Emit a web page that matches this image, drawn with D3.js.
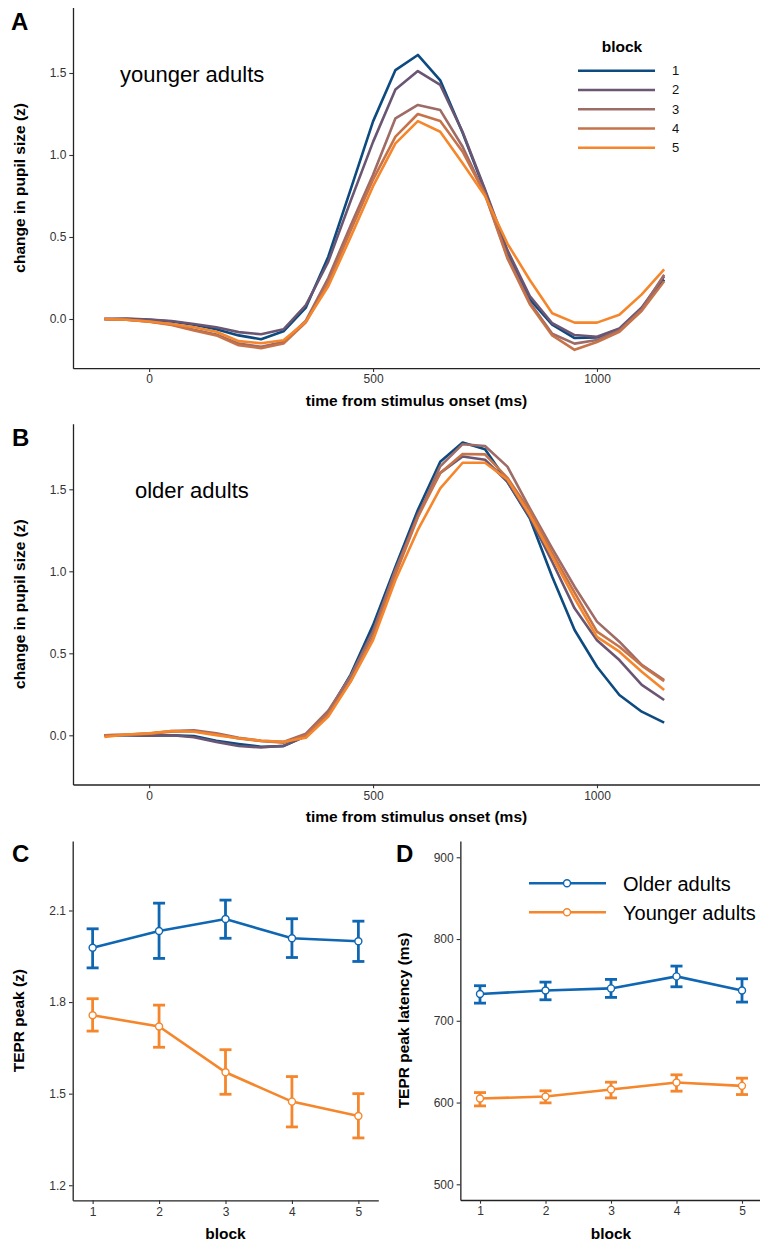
<!DOCTYPE html>
<html>
<head>
<meta charset="utf-8">
<script src="https://cdn.jsdelivr.net/npm/d3@7"></script>
<style>
  html, body { margin: 0; padding: 0; background: #fff; }
  svg { display: block; font-family: "Liberation Sans", Arial, sans-serif; }
</style>
</head>
<body>
<svg id="chart" width="760" height="1243"></svg>
<script>
// ---------------- DATA ----------------
const times = [-100,-50,0,50,100,150,200,250,300,350,400,450,500,550,600,650,700,750,800,850,900,950,1000,1050,1100,1150];
const blocks = [1,2,3,4,5];

// Panel A: younger adults, pupil change (z) per block
const younger_block1 = [0,0,-0.005,-0.015,-0.035,-0.062,-0.1,-0.123,-0.075,0.07,0.38,0.79,1.205,1.518,1.61,1.455,1.135,0.78,0.40,0.12,-0.035,-0.116,-0.113,-0.068,0.06,0.24];
const younger_block2 = [0,0.002,-0.003,-0.012,-0.03,-0.05,-0.08,-0.093,-0.063,0.085,0.35,0.72,1.08,1.40,1.512,1.427,1.14,0.79,0.42,0.14,-0.026,-0.098,-0.108,-0.058,0.07,0.26];
const younger_block3 = [0,-0.005,-0.015,-0.032,-0.065,-0.095,-0.15,-0.17,-0.14,-0.01,0.25,0.57,0.88,1.224,1.305,1.274,1.05,0.76,0.38,0.10,-0.09,-0.15,-0.128,-0.07,0.06,0.27];
const younger_block4 = [0,-0.005,-0.017,-0.037,-0.07,-0.1,-0.16,-0.178,-0.15,-0.02,0.22,0.54,0.85,1.112,1.25,1.207,1.02,0.76,0.37,0.09,-0.1,-0.188,-0.14,-0.078,0.05,0.23];
const younger_block5 = [0,-0.005,-0.015,-0.03,-0.05,-0.078,-0.135,-0.148,-0.13,-0.016,0.2,0.5,0.81,1.071,1.207,1.142,0.95,0.75,0.46,0.238,0.035,-0.022,-0.022,0.026,0.15,0.303];

// Panel B: older adults, pupil change (z) per block
const older_block1 = [0,0,-0.002,0,-0.005,-0.033,-0.053,-0.07,-0.066,-0.005,0.14,0.37,0.672,1.028,1.374,1.668,1.785,1.744,1.546,1.323,0.967,0.642,0.418,0.246,0.144,0.077];
const older_block2 = [0,0,-0.002,0,-0.012,-0.04,-0.065,-0.074,-0.064,-0.005,0.14,0.36,0.64,1.0,1.35,1.60,1.70,1.68,1.546,1.33,1.058,0.774,0.58,0.459,0.307,0.215];
const older_block3 = [0,0.005,0.01,0.026,0.03,0.012,-0.015,-0.034,-0.04,0.01,0.15,0.36,0.63,1.01,1.335,1.64,1.775,1.764,1.638,1.384,1.14,0.906,0.693,0.571,0.429,0.337];
const older_block4 = [0,0.003,0.01,0.022,0.025,0.006,-0.02,-0.035,-0.045,0.0,0.13,0.33,0.60,0.98,1.33,1.60,1.715,1.713,1.57,1.37,1.11,0.87,0.632,0.54,0.425,0.33];
const older_block5 = [-0.01,0.005,0.012,0.026,0.022,0.001,-0.018,-0.033,-0.039,-0.015,0.114,0.327,0.581,0.947,1.252,1.506,1.662,1.662,1.56,1.343,1.089,0.835,0.60,0.51,0.388,0.276];

// Panel C: TEPR peak (z), mean and error bar limits
const peak_older_mean  = [1.978,2.033,2.072,2.009,1.999];
const peak_older_low   = [1.912,1.943,2.009,1.946,1.933];
const peak_older_high  = [2.040,2.124,2.134,2.073,2.065];
const peak_younger_mean = [1.757,1.720,1.570,1.474,1.427];
const peak_younger_low  = [1.705,1.652,1.498,1.391,1.355];
const peak_younger_high = [1.811,1.790,1.644,1.556,1.500];

// Panel D: TEPR peak latency (ms)
const lat_older_mean  = [732.7,737.1,739.6,754.3,737.1];
const lat_older_low   = [721.6,725.7,728.6,741.6,722.9];
const lat_older_high  = [742.9,747.3,750.6,766.9,751.4];
const lat_younger_mean = [604.9,607.3,615.9,624.5,620.4];
const lat_younger_low  = [595.9,599.6,605.7,613.9,609.8];
const lat_younger_high = [612.2,614.3,624.9,633.9,629.8];

// tick labels
const curveYTicks = [0.0, 0.5, 1.0, 1.5];
const curveXTicks = [0, 500, 1000];
const peakYTicks = [1.2, 1.5, 1.8, 2.1];
const latYTicks = [500, 600, 700, 800, 900];
const groupNames = ["Older adults", "Younger adults"];

// ---------------- STYLE ----------------
const blockColors = ["#0c4a80", "#6a5673", "#9e6b67", "#c6734a", "#f5862b"];
const olderColor = "#0f66b2";
const youngerColor = "#f5862b";
const axisColor = "#222";
const tickTextColor = "#333";

const svg = d3.select("#chart");

function styleAxis(g) {
  g.select(".domain").attr("stroke", axisColor).attr("stroke-width", 1.3);
  g.selectAll(".tick line").attr("stroke", "#333").attr("stroke-width", 1.1);
  g.selectAll(".tick text").attr("fill", tickTextColor).style("font-size", "12px")
    .style("font-family", '"Liberation Sans", Arial, sans-serif');
}

function boldText(x, y, txt, size, anchor, rotate) {
  const t = svg.append("text")
    .attr("font-weight", "bold")
    .attr("font-size", size)
    .attr("text-anchor", anchor || "middle")
    .attr("fill", "#000")
    .text(txt);
  if (rotate) t.attr("transform", `translate(${x},${y}) rotate(-90)`);
  else t.attr("x", x).attr("y", y);
  return t;
}

// ---------------- PANELS A & B ----------------
function curvePanel(cfg) {
  const x = d3.scaleLinear().domain([-170, 1364]).range([73, 760]);
  const y = d3.scaleLinear().domain([-0.3, 1.9]).range([cfg.zeroY + 0.3 * 164, cfg.zeroY - 1.9 * 164]);
  const g = svg.append("g");

  const line = d3.line().x((d, i) => x(times[i])).y(d => y(d));
  cfg.series.forEach((s, i) => {
    g.append("path").datum(s)
      .attr("fill", "none")
      .attr("stroke", blockColors[i])
      .attr("stroke-width", 2.6)
      .attr("stroke-linejoin", "round")
      .attr("d", line);
  });

  const xa = g.append("g").attr("transform", `translate(0,${y.range()[0]})`)
    .call(d3.axisBottom(x).tickValues(curveXTicks).tickSize(3.7).tickSizeOuter(0).tickPadding(3).tickFormat(d3.format("d")));
  styleAxis(xa);
  const ya = g.append("g").attr("transform", `translate(73,0)`)
    .call(d3.axisLeft(y).tickValues(curveYTicks).tickSize(3.7).tickSizeOuter(0).tickPadding(3).tickFormat(d3.format(".1f")));
  styleAxis(ya);

  boldText(416.5, y.range()[0] + 37.5, "time from stimulus onset (ms)", "15.5px");
  boldText(24.5, (y.range()[0] + y.range()[1]) / 2, "change in pupil size (z)", "15.5px", "middle", true);
  boldText(cfg.letterX, cfg.letterY, cfg.letter, "24px", "start");
  svg.append("text").attr("x", cfg.labelX).attr("y", cfg.labelY)
    .attr("font-size", "22px").attr("fill", "#000").text(cfg.label);
}

curvePanel({ zeroY: 319, series: [younger_block1, younger_block2, younger_block3, younger_block4, younger_block5],
  letter: "A", letterX: 11, letterY: 30, label: "younger adults", labelX: 120, labelY: 82 });
curvePanel({ zeroY: 735.3, series: [older_block1, older_block2, older_block3, older_block4, older_block5],
  letter: "B", letterX: 12, letterY: 446, label: "older adults", labelX: 135, labelY: 498 });

// legend for A
boldText(622, 52, "block", "15.5px");
blocks.forEach((b, i) => {
  const ly = 70.7 + i * 19.25;
  svg.append("line").attr("x1", 578).attr("x2", 655).attr("y1", ly).attr("y2", ly)
    .attr("stroke", blockColors[i]).attr("stroke-width", 2.6);
  svg.append("text").attr("x", 672).attr("y", ly + 4.5).attr("font-size", "13px")
    .attr("fill", "#111").text(b);
});

// ---------------- PANELS C & D ----------------
function blockPanel(cfg) {
  const x = d3.scaleLinear().domain([0.7, 5.3]).range(cfg.xRange);
  const y = d3.scaleLinear().domain(cfg.yDomain).range([cfg.yBottom, cfg.yTop]);
  const g = svg.append("g");

  const groups = [
    { mean: cfg.olderMean, low: cfg.olderLow, high: cfg.olderHigh, color: olderColor },
    { mean: cfg.youngerMean, low: cfg.youngerLow, high: cfg.youngerHigh, color: youngerColor }
  ];
  const line = d3.line().x((d, i) => x(blocks[i])).y(d => y(d));
  groups.forEach(gr => {
    g.append("path").datum(gr.mean).attr("fill", "none").attr("stroke", gr.color)
      .attr("stroke-width", 2.6).attr("d", line);
    blocks.forEach((b, i) => {
      const cx = x(b);
      g.append("line").attr("x1", cx).attr("x2", cx).attr("y1", y(gr.low[i])).attr("y2", y(gr.high[i]))
        .attr("stroke", gr.color).attr("stroke-width", 2.8);
      [gr.low[i], gr.high[i]].forEach(v => {
        g.append("line").attr("x1", cx - 6).attr("x2", cx + 6).attr("y1", y(v)).attr("y2", y(v))
          .attr("stroke", gr.color).attr("stroke-width", 2.8);
      });
    });
    g.selectAll(null).data(gr.mean).enter().append("circle")
      .attr("cx", (d, i) => x(blocks[i])).attr("cy", d => y(d)).attr("r", 3.5)
      .attr("fill", "#fff").attr("stroke", gr.color).attr("stroke-width", 1.4);
  });

  const xa = g.append("g").attr("transform", `translate(0,${cfg.yBottom})`)
    .call(d3.axisBottom(x).tickValues(blocks).tickSize(3.7).tickSizeOuter(0).tickPadding(3).tickFormat(d3.format("d")));
  styleAxis(xa);
  const ya = g.append("g").attr("transform", `translate(${cfg.xRange[0]},0)`)
    .call(d3.axisLeft(y).tickValues(cfg.yTicks).tickSize(3.7).tickSizeOuter(0).tickPadding(3).tickFormat(cfg.fmt));
  styleAxis(ya);

  boldText((cfg.xRange[0] + cfg.xRange[1]) / 2, cfg.yBottom + 38.5, "block", "15.5px");
  boldText(cfg.yTitleX, (cfg.yTop + cfg.yBottom) / 2, cfg.yTitle, "15.5px", "middle", true);
  boldText(cfg.letterX, 862, cfg.letter, "24px", "start");
}

blockPanel({ xRange: [72.7, 378.3], yDomain: [1.1507, 2.3276], yBottom: 1200.3, yTop: 841,
  olderMean: peak_older_mean, olderLow: peak_older_low, olderHigh: peak_older_high,
  youngerMean: peak_younger_mean, youngerLow: peak_younger_low, youngerHigh: peak_younger_high,
  yTicks: peakYTicks, fmt: d3.format(".1f"), yTitle: "TEPR peak (z)", yTitleX: 24, letter: "C", letterX: 12 });

blockPanel({ xRange: [460.35, 761.65], yDomain: [480.8, 919.9], yBottom: 1200, yTop: 841,
  olderMean: lat_older_mean, olderLow: lat_older_low, olderHigh: lat_older_high,
  youngerMean: lat_younger_mean, youngerLow: lat_younger_low, youngerHigh: lat_younger_high,
  yTicks: latYTicks, fmt: d3.format("d"), yTitle: "TEPR peak latency (ms)", yTitleX: 409, letter: "D", letterX: 396 });

// legend for D
[olderColor, youngerColor].forEach((c, i) => {
  const ly = 883.3 + i * 29;
  svg.append("line").attr("x1", 529).attr("x2", 606).attr("y1", ly).attr("y2", ly)
    .attr("stroke", c).attr("stroke-width", 2.6);
  svg.append("circle").attr("cx", 567).attr("cy", ly).attr("r", 3.5)
    .attr("fill", "#fff").attr("stroke", c).attr("stroke-width", 1.4);
  svg.append("text").attr("x", 623).attr("y", ly + 7.3).attr("font-size", "20px")
    .attr("fill", "#000").text(groupNames[i]);
});
</script>
</body>
</html>
